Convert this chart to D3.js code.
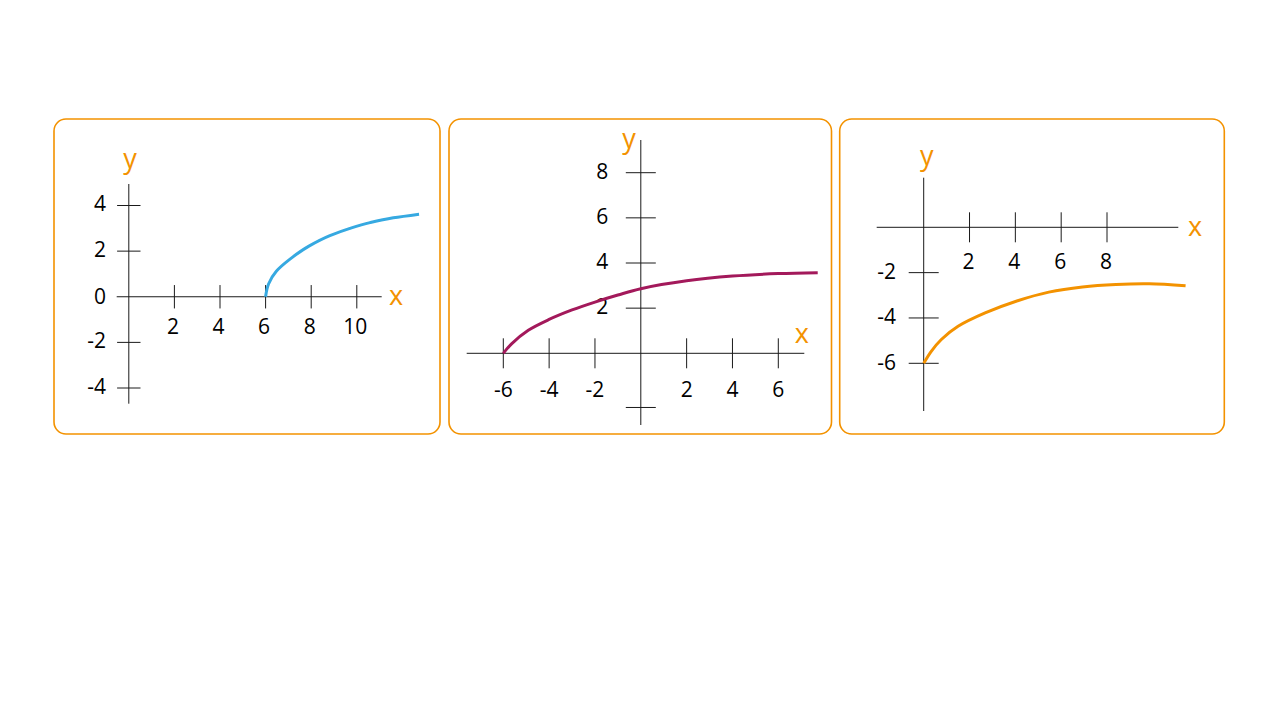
<!DOCTYPE html>
<html>
<head>
<meta charset="utf-8">
<script src="https://cdn.jsdelivr.net/npm/d3@7"></script>
<style>
  html, body { margin: 0; padding: 0; background: #fff; }
  svg { display: block; }
  text { font-family: "Open Sans", "Noto Sans", sans-serif; }
</style>
</head>
<body>
<svg id="chart" width="1280" height="721"></svg>
<script>
// ---------- data ----------
// Panel 1 (blue)
const p1XTicks = [2, 4, 6, 8, 10];
const p1XLabels = ["2", "4", "6", "8", "10"];
const p1YTicks = [4, 2, -2, -4];
const p1YLabels = ["4", "2", "-2", "-4"];
const p1ZeroLabel = ["0"];
const p1CurveX = [6, 6.13, 6.47, 7.07, 7.9, 8.82, 9.7, 10.58, 11.6, 12.73];
const p1CurveY = [0, 0.56, 1.12, 1.65, 2.22, 2.68, 3.0, 3.25, 3.46, 3.62];

// Panel 2 (magenta)
const p2XTicks = [-6, -4, -2, 2, 4, 6];
const p2XLabels = ["-6", "-4", "-2", "2", "4", "6"];
const p2YTicks = [8, 6, 4, 2, -2.4];
const p2YLabels = ["8", "6", "4", "2", ""];
const p2CurveX = [-6, -5.64, -4.91, -4.0, -3.0, -2.0, -1.0, 0, 2, 4, 6, 7.72];
const p2CurveY = [0, 0.42, 1.02, 1.5, 1.92, 2.27, 2.58, 2.86, 3.21, 3.42, 3.53, 3.57];

// Panel 3 (orange)
const p3XTicks = [2, 4, 6, 8];
const p3XLabels = ["2", "4", "6", "8"];
const p3YTicks = [-2, -4, -6];
const p3YLabels = ["-2", "-4", "-6"];
const p3CurveX = [0, 0.33, 0.77, 1.5, 2.68, 4.1, 5.46, 6.93, 8.39, 9.85, 11.43];
const p3CurveY = [-6, -5.47, -4.95, -4.37, -3.78, -3.24, -2.86, -2.63, -2.52, -2.49, -2.58];

// ---------- layout / style ----------
const ORANGE = "#f39200";
const AXIS = "#1a1a1a";

const panels = [
  {
    box: [54, 119, 386, 315],
    xDom: [0, 10], xRng: [128.8, 356.8],
    yDom: [-4, 4], yRng: [388, 205.5],
    xAxisExt: [116.7, 381.7], yAxisExt: [184, 403.7],
    tick: 11.7,
    xTicks: p1XTicks, xLabels: p1XLabels, xLabelDy: 37.7, xLabelDx: -1.5,
    yTicks: p1YTicks, yLabels: p1YLabels, yLabelDx: -22.8, yLabelDy: 5.5,
    extraY: { value: 0, label: p1ZeroLabel[0] },
    xName: [396, 305], yName: [130, 168],
    cx: p1CurveX, cy: p1CurveY, color: "#36a9e1", curve: d3.curveMonotoneY
  },
  {
    box: [449, 119, 382.5, 315],
    xDom: [-6, 6], xRng: [503.3, 778.3],
    yDom: [0, 8], yRng: [353.3, 172.7],
    xAxisExt: [466.7, 804.3], yAxisExt: [140, 425],
    tick: 15,
    xTicks: p2XTicks, xLabels: p2XLabels, xLabelDy: 43.4, xLabelDx: 0,
    yTicks: p2YTicks, yLabels: p2YLabels, yLabelDx: -32.5, yLabelDy: 6.3,
    extraY: null,
    xName: [801.7, 343.3], yName: [629, 148.3],
    cx: p2CurveX, cy: p2CurveY, color: "#a3195b", curve: d3.curveCatmullRom.alpha(0.5)
  },
  {
    box: [839.7, 119, 384.6, 315],
    xDom: [0, 8], xRng: [923.7, 1107],
    yDom: [-6, 0], yRng: [363.3, 227.3],
    xAxisExt: [876.7, 1178.3], yAxisExt: [177.7, 411],
    tick: 15,
    xTicks: p3XTicks, xLabels: p3XLabels, xLabelDy: 41.7, xLabelDx: -1,
    yTicks: p3YTicks, yLabels: p3YLabels, yLabelDx: -27.7, yLabelDy: 6.2,
    extraY: null,
    xName: [1195, 235.7], yName: [926.7, 165],
    cx: p3CurveX, cy: p3CurveY, color: "#f39200", curve: d3.curveCatmullRom.alpha(0.5)
  }
];

const svg = d3.select("#chart");

panels.forEach(p => {
  const g = svg.append("g");
  // frame
  g.append("rect")
    .attr("x", p.box[0]).attr("y", p.box[1])
    .attr("width", p.box[2]).attr("height", p.box[3])
    .attr("rx", 12).attr("ry", 12)
    .attr("fill", "none").attr("stroke", ORANGE).attr("stroke-width", 1.6);

  const x = d3.scaleLinear().domain(p.xDom).range(p.xRng);
  const y = d3.scaleLinear().domain(p.yDom).range(p.yRng);
  const x0 = x(0), y0 = y(0);

  // axes lines
  g.append("line")
    .attr("x1", p.xAxisExt[0]).attr("x2", p.xAxisExt[1])
    .attr("y1", y0).attr("y2", y0)
    .attr("stroke", AXIS).attr("stroke-width", 1);
  g.append("line")
    .attr("x1", x0).attr("x2", x0)
    .attr("y1", p.yAxisExt[0]).attr("y2", p.yAxisExt[1])
    .attr("stroke", AXIS).attr("stroke-width", 1);

  // x ticks
  g.selectAll(".xt").data(p.xTicks).join("line")
    .attr("x1", d => x(d)).attr("x2", d => x(d))
    .attr("y1", y0 - p.tick).attr("y2", y0 + p.tick)
    .attr("stroke", AXIS).attr("stroke-width", 1);
  g.selectAll(".xl").data(p.xTicks).join("text")
    .attr("x", d => x(d) + p.xLabelDx)
    .attr("y", y0 + p.xLabelDy)
    .attr("text-anchor", "middle")
    .attr("font-size", 21).attr("fill", "#000")
    .text((d, i) => p.xLabels[i]);

  // y ticks
  g.selectAll(".yt").data(p.yTicks).join("line")
    .attr("x1", x0 - p.tick).attr("x2", x0 + p.tick)
    .attr("y1", d => y(d)).attr("y2", d => y(d))
    .attr("stroke", AXIS).attr("stroke-width", 1);
  g.selectAll(".yl").data(p.yTicks).join("text")
    .attr("x", x0 + p.yLabelDx)
    .attr("y", d => y(d) + p.yLabelDy)
    .attr("text-anchor", "end")
    .attr("font-size", 21).attr("fill", "#000")
    .text((d, i) => p.yLabels[i]);

  if (p.extraY) {
    g.append("text")
      .attr("x", x0 + p.yLabelDx)
      .attr("y", y(p.extraY.value) + 7.5)
      .attr("text-anchor", "end")
      .attr("font-size", 21).attr("fill", "#000")
      .text(p.extraY.label);
  }

  // axis names
  g.append("text").attr("x", p.xName[0]).attr("y", p.xName[1])
    .attr("text-anchor", "middle").attr("font-size", 27).attr("fill", ORANGE).text("x");
  g.append("text").attr("x", p.yName[0]).attr("y", p.yName[1])
    .attr("text-anchor", "middle").attr("font-size", 27).attr("fill", ORANGE).text("y");

  // curve
  const pts = p.cx.map((v, i) => [v, p.cy[i]]);
  const line = d3.line().x(d => x(d[0])).y(d => y(d[1])).curve(p.curve);
  g.append("path").attr("d", line(pts))
    .attr("fill", "none").attr("stroke", p.color).attr("stroke-width", 3)
    .attr("stroke-linecap", "butt");
});
</script>
</body>
</html>
